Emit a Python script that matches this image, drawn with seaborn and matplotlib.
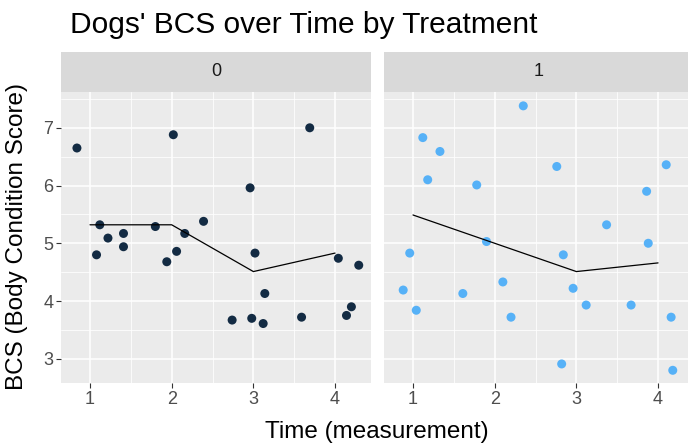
import matplotlib
matplotlib.use("Agg")
import matplotlib.pyplot as plt
import seaborn as sns
import pandas as pd

# jittered observations, treatment 0
time_0 = [0.84, 1.12, 1.08, 1.22, 1.41, 1.41, 1.80, 2.02, 1.94, 2.06, 2.16, 2.39,
          2.96, 3.02, 3.14, 2.74, 2.98, 3.12, 3.69, 3.59, 4.04, 4.29, 4.20, 4.14]
bcs_0 = [6.65, 5.32, 4.80, 5.09, 5.17, 4.94, 5.29, 6.88, 4.68, 4.86, 5.17, 5.38,
         5.96, 4.83, 4.13, 3.67, 3.70, 3.61, 7.00, 3.72, 4.74, 4.62, 3.90, 3.75]

# jittered observations, treatment 1
time_1 = [2.35, 1.12, 1.33, 1.18, 1.78, 2.76, 4.10, 3.86, 3.37, 3.88, 1.90, 2.84,
          0.96, 0.88, 1.04, 1.61, 2.10, 2.20, 2.96, 3.12, 3.67, 4.16, 2.82, 4.18]
bcs_1 = [7.38, 6.83, 6.59, 6.10, 6.01, 6.33, 6.36, 5.90, 5.32, 5.00, 5.03, 4.80,
         4.83, 4.19, 3.84, 4.13, 4.33, 3.72, 4.22, 3.93, 3.93, 3.72, 2.91, 2.80]

# mean line per measurement
mean_time = [1, 2, 3, 4]
mean_0 = [5.32, 5.32, 4.51, 4.83]
mean_1 = [5.49, 5.00, 4.51, 4.66]

treatments = ["0", "1"]
colors = ["#132B43", "#56B1F7"]

df = pd.concat([
    pd.DataFrame({"time": time_0, "bcs": bcs_0, "treatment": "0"}),
    pd.DataFrame({"time": time_1, "bcs": bcs_1, "treatment": "1"}),
], ignore_index=True)
means = pd.concat([
    pd.DataFrame({"time": mean_time, "bcs": mean_0, "treatment": "0"}),
    pd.DataFrame({"time": mean_time, "bcs": mean_1, "treatment": "1"}),
], ignore_index=True)

sns.set_style("darkgrid", {"axes.facecolor": "#EBEBEB", "grid.color": "white"})
plt.rcParams["font.family"] = ["Liberation Sans", "DejaVu Sans"]

W, H = 688, 448
fig = plt.figure(figsize=(W / 100, H / 100), dpi=100)

panel_left = [61, 384]
panel_w = 310
bottom, top = 383, 92
strip_top = 52

for i, trt in enumerate(treatments):
    ax = fig.add_axes([panel_left[i] / W, 1 - bottom / H, panel_w / W, (bottom - top) / H])
    sub = df[df.treatment == trt]
    sns.scatterplot(data=sub, x="time", y="bcs", color=colors[i], s=42,
                    edgecolor="none", ax=ax)
    sns.lineplot(data=means[means.treatment == trt], x="time", y="bcs",
                 color="black", lw=0.9, ax=ax)
    ax.set_xlim(0.645, 4.44)
    ax.set_ylim(2.58, 7.62)
    ax.set_xticks([1, 2, 3, 4])
    ax.set_yticks([3, 4, 5, 6, 7])
    ax.set_xticks([1.5, 2.5, 3.5], minor=True)
    ax.set_yticks([3.5, 4.5, 5.5, 6.5, 7.5], minor=True)
    ax.grid(which="major", color="white", lw=1.1)
    ax.grid(which="minor", color="white", lw=0.55)
    ax.tick_params(which="major", length=3.5, width=0.8, color="#333333",
                   labelsize=13, labelcolor="#4D4D4D", pad=2, bottom=True, left=(i == 0))
    ax.tick_params(which="minor", length=0)
    for s in ax.spines.values():
        s.set_visible(False)
    ax.set_xlabel("")
    ax.set_ylabel("")
    if i == 1:
        ax.set_yticklabels([])

    strip = fig.add_axes([panel_left[i] / W, 1 - top / H, panel_w / W, (top - strip_top) / H])
    strip.set_facecolor("#D9D9D9")
    strip.set_xticks([])
    strip.set_yticks([])
    for s in strip.spines.values():
        s.set_visible(False)
    strip.text(0.5, 0.5, trt, ha="center", va="center", fontsize=13,
               color="#1A1A1A", transform=strip.transAxes)

fig.text(70 / W, 1 - 25 / H, "Dogs' BCS over Time by Treatment", fontsize=21.5,
         ha="left", va="center", color="black")
fig.text(377 / W, 1 - 432 / H, "Time (measurement)", fontsize=17.5,
         ha="center", va="center", color="black")
fig.text(17 / W, 1 - 237 / H, "BCS (Body Condition Score)", fontsize=17.5,
         ha="center", va="center", rotation=90, color="black")

fig.savefig("out.png", dpi=100)
